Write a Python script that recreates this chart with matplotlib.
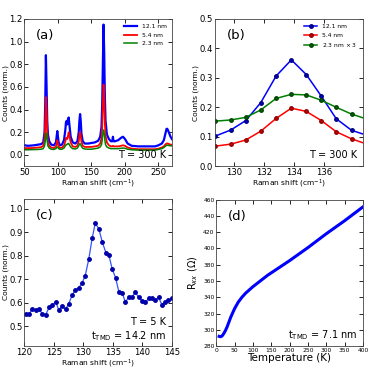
import numpy as np
import matplotlib
matplotlib.use("Agg")
import matplotlib.pyplot as plt

plt.rcParams['font.family'] = 'DejaVu Sans'
plt.rcParams['font.size'] = 5.4

# (a) Raman spectra at 300 K
shift_a = [50, 55, 60, 65, 70, 75, 78, 80, 81, 82, 83, 84, 85, 87, 90, 94, 97, 98, 99, 100,
           101, 103, 106, 109, 111, 112, 113, 114, 115, 116, 117, 119, 122, 126, 129, 131,
           132, 133, 134, 135, 137, 140, 145, 150, 155, 160, 163, 165, 166, 167, 168, 169,
           170, 171, 173, 176, 179, 181, 182, 183, 185, 190, 194, 197, 200, 204, 210, 220,
           230, 240, 245, 250, 255, 258, 260, 262, 263, 264, 266, 268, 270]
blue_a = [0.085, 0.08, 0.082, 0.085, 0.09, 0.095, 0.11, 0.2, 0.45, 0.88, 0.6, 0.3, 0.18, 0.12,
          0.09, 0.085, 0.11, 0.16, 0.21, 0.16, 0.11, 0.085, 0.09, 0.13, 0.22, 0.29, 0.3, 0.27,
          0.31, 0.33, 0.27, 0.16, 0.11, 0.1, 0.12, 0.2, 0.3, 0.36, 0.3, 0.19, 0.12, 0.1, 0.1,
          0.105, 0.11, 0.125, 0.16, 0.25, 0.45, 0.8, 1.15, 0.9, 0.5, 0.3, 0.18, 0.14, 0.12,
          0.12, 0.16, 0.12, 0.12, 0.13, 0.15, 0.16, 0.14, 0.1, 0.08, 0.075, 0.075, 0.075,
          0.075, 0.085, 0.1, 0.13, 0.18, 0.23, 0.23, 0.22, 0.19, 0.16, 0.14]
red_a = [0.06, 0.06, 0.06, 0.062, 0.065, 0.068, 0.08, 0.14, 0.3, 0.51, 0.4, 0.2, 0.12, 0.08,
         0.065, 0.06, 0.075, 0.1, 0.13, 0.1, 0.075, 0.06, 0.065, 0.08, 0.12, 0.15, 0.15, 0.14,
         0.17, 0.2, 0.17, 0.11, 0.075, 0.07, 0.08, 0.12, 0.17, 0.2, 0.17, 0.12, 0.08, 0.07,
         0.07, 0.07, 0.075, 0.08, 0.1, 0.15, 0.25, 0.45, 0.62, 0.5, 0.28, 0.17, 0.11, 0.085,
         0.075, 0.075, 0.08, 0.075, 0.075, 0.075, 0.08, 0.085, 0.08, 0.065, 0.055, 0.05, 0.05,
         0.05, 0.05, 0.055, 0.065, 0.075, 0.09, 0.1, 0.1, 0.1, 0.095, 0.09, 0.09]
green_a = [0.045, 0.045, 0.046, 0.047, 0.048, 0.05, 0.055, 0.08, 0.12, 0.19, 0.19, 0.12, 0.08,
           0.06, 0.05, 0.048, 0.055, 0.065, 0.07, 0.065, 0.055, 0.05, 0.05, 0.06, 0.08, 0.09,
           0.09, 0.095, 0.1, 0.1, 0.09, 0.07, 0.055, 0.052, 0.06, 0.08, 0.095, 0.1, 0.09,
           0.075, 0.058, 0.052, 0.05, 0.05, 0.055, 0.06, 0.07, 0.09, 0.13, 0.19, 0.22, 0.19,
           0.13, 0.09, 0.07, 0.06, 0.055, 0.055, 0.056, 0.055, 0.055, 0.055, 0.058, 0.06,
           0.058, 0.05, 0.045, 0.042, 0.042, 0.042, 0.043, 0.048, 0.055, 0.065, 0.075, 0.085,
           0.085, 0.085, 0.082, 0.08, 0.08]

# (b) zoom on the 133 cm-1 mode
shift_b = [128.73, 129.78, 130.78, 131.78, 132.8, 133.82, 134.82, 135.82, 136.82, 137.84, 138.86]
blue_b = [0.102, 0.123, 0.155, 0.216, 0.306, 0.361, 0.311, 0.238, 0.161, 0.122, 0.105]
red_b = [0.068, 0.075, 0.089, 0.119, 0.162, 0.197, 0.186, 0.155, 0.117, 0.093, 0.075]
green_b = [0.153, 0.157, 0.166, 0.191, 0.23, 0.244, 0.242, 0.224, 0.2, 0.177, 0.16]

# (c) 5 K spectrum
shift_c = [120.2, 120.8, 121.35, 121.9, 122.5, 123.0, 123.6, 124.2, 124.7, 125.3, 125.8, 126.4,
           127.0, 127.5, 128.1, 128.65, 129.2, 129.8, 130.3, 130.9, 131.5, 132.0, 132.6, 133.2,
           133.8, 134.3, 134.9, 135.45, 136.0, 136.6, 137.1, 137.7, 138.3, 138.8, 139.4, 140.0,
           140.5, 141.1, 141.6, 142.2, 142.75, 143.3, 143.9, 144.4, 145.0]
counts_c = [0.552, 0.553, 0.574, 0.571, 0.574, 0.554, 0.55, 0.581, 0.589, 0.605, 0.571, 0.585,
            0.574, 0.596, 0.633, 0.656, 0.663, 0.686, 0.715, 0.785, 0.877, 0.938, 0.916, 0.858,
            0.814, 0.804, 0.742, 0.707, 0.648, 0.642, 0.602, 0.626, 0.626, 0.645, 0.623, 0.609,
            0.602, 0.619, 0.619, 0.613, 0.623, 0.592, 0.602, 0.612, 0.619]

# (d) resistance vs temperature
temp_d = [8, 12, 16, 20, 25, 30, 35, 40, 50, 60, 70, 80, 90, 100, 120, 140, 160, 180, 200,
          250, 300, 350, 400]
res_d = [292, 291.5, 292.5, 295, 299, 304, 310, 316, 326, 334, 340, 345, 349, 353, 360, 367,
         373, 379, 385, 401, 418, 434, 451]

fig = plt.figure(figsize=(3.82, 3.71), dpi=100)
ax_a = fig.add_axes([0.064, 0.552, 0.386, 0.397])
ax_b = fig.add_axes([0.562, 0.552, 0.388, 0.397])
ax_c = fig.add_axes([0.064, 0.067, 0.386, 0.397])
ax_d = fig.add_axes([0.566, 0.067, 0.384, 0.395])

for ax in [ax_a, ax_b, ax_c, ax_d]:
    ax.tick_params(direction='in', top=True, right=True, length=3, width=0.6, pad=1.2,
                   labelsize=6.1)
    for s in ax.spines.values():
        s.set_linewidth(0.6)
        s.set_color('#444444')

# panel a
ax_a.plot(shift_a, blue_a, color='blue', lw=1.6, label='12.1 nm')
ax_a.plot(shift_a, red_a, color='red', lw=1.3, label='5.4 nm')
ax_a.plot(shift_a, green_a, color='green', lw=1.1, label='2.3 nm')
ax_a.set_xlim(50, 270)
ax_a.set_ylim(-0.1, 1.2)
ax_a.set_xticks([50, 100, 150, 200, 250])
ax_a.set_yticks([0.0, 0.2, 0.4, 0.6, 0.8, 1.0, 1.2])
ax_a.set_xlabel('Raman shift (cm$^{-1}$)', labelpad=0.3)
ax_a.set_ylabel('Counts (norm.)', labelpad=0.3)
ax_a.legend(loc='upper right', frameon=False, fontsize=4.3, handlelength=2.2)
ax_a.text(0.08, 0.93, '(a)', transform=ax_a.transAxes, fontsize=9.5, va='top')
ax_a.text(0.96, 0.04, 'T = 300 K', transform=ax_a.transAxes, fontsize=7, ha='right', va='bottom')

# panel b
ax_b.plot(shift_b, blue_b, color='blue', lw=1.1, marker='o', ms=2.5, mec='#000080', mfc='#0000cc', label='12.1 nm')
ax_b.plot(shift_b, red_b, color='red', lw=1.1, marker='o', ms=2.5, mec='#900000', mfc='#cc0000', label='5.4 nm')
ax_b.plot(shift_b, green_b, color='green', lw=1.1, marker='o', ms=2.5, mec='#004400', mfc='#006600', label='2.3 nm $\\times$ 3')
ax_b.set_xlim(128.7, 138.6)
ax_b.set_ylim(0, 0.5)
ax_b.set_xticks([130, 132, 134, 136])
ax_b.set_yticks([0.0, 0.1, 0.2, 0.3, 0.4, 0.5])
ax_b.set_xlabel('Raman shift (cm$^{-1}$)', labelpad=0.3)
ax_b.set_ylabel('Counts (norm.)', labelpad=0.3)
ax_b.legend(loc='upper right', frameon=False, fontsize=4.3, handlelength=2.2)
ax_b.text(0.08, 0.93, '(b)', transform=ax_b.transAxes, fontsize=9.5, va='top')
ax_b.text(0.96, 0.04, 'T = 300 K', transform=ax_b.transAxes, fontsize=7, ha='right', va='bottom')

# panel c
ax_c.plot(shift_c, counts_c, color='#3355ff', lw=0.9, marker='o', ms=2.5, mec='#0000aa', mfc='#0000aa')
ax_c.set_xlim(120, 145)
ax_c.set_ylim(0.416, 1.042)
ax_c.set_xticks([120, 125, 130, 135, 140, 145])
ax_c.set_yticks([0.5, 0.6, 0.7, 0.8, 0.9, 1.0])
ax_c.set_xlabel('Raman shift (cm$^{-1}$)', labelpad=0.3)
ax_c.set_ylabel('Counts (norm.)', labelpad=0.3)
ax_c.text(0.08, 0.93, '(c)', transform=ax_c.transAxes, fontsize=9.5, va='top')
ax_c.text(0.96, 0.13, 'T = 5 K', transform=ax_c.transAxes, fontsize=7, ha='right', va='bottom')
ax_c.text(0.96, 0.02, 't$_{\\mathrm{TMD}}$ = 14.2 nm', transform=ax_c.transAxes, fontsize=7, ha='right', va='bottom')

# panel d
ax_d.plot(temp_d, res_d, color='blue', lw=2.2)
ax_d.set_xlim(0, 400)
ax_d.set_ylim(280, 460)
ax_d.set_xticks(range(0, 401, 50))
ax_d.set_yticks(range(280, 461, 20))
ax_d.tick_params(labelsize=4.3)
ax_d.set_xlabel('Temperature (K)', fontsize=7.5, labelpad=0.3)
ax_d.set_ylabel('R$_{xx}$ ($\\Omega$)', fontsize=7, labelpad=2)
ax_d.text(0.08, 0.93, '(d)', transform=ax_d.transAxes, fontsize=9.5, va='top')
ax_d.text(0.96, 0.03, 't$_{\\mathrm{TMD}}$ = 7.1 nm', transform=ax_d.transAxes, fontsize=7, ha='right', va='bottom')

fig.savefig('out.png', dpi=100)
